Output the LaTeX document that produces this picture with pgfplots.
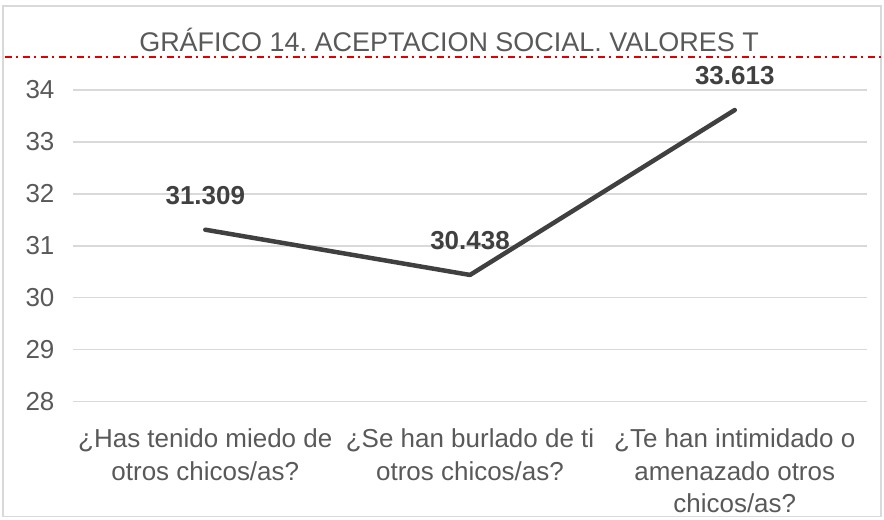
\documentclass[border=0pt]{standalone}
\usepackage{fontspec}
\setmainfont{Liberation Sans}
\usepackage{pgfplots}
\pgfplotsset{compat=1.18}
\definecolor{txtgray}{HTML}{595959}
\definecolor{linegray}{HTML}{404040}
\definecolor{gridgray}{HTML}{D9D9D9}
\definecolor{titlered}{HTML}{E00000}
\frenchspacing

\begin{document}
\begin{tikzpicture}[x=1pt,y=1pt]
\path (0,0) rectangle (884,520);
\draw[gridgray, line width=1.5pt] (3,3) rectangle (882,514);
\begin{axis}[
  at={(73pt,118pt)}, anchor=south west,
  scale only axis, width=795pt, height=312pt,
  xmin=-0.5, xmax=2.5, ymin=28, ymax=34,
  xtick={0,1,2},
  xticklabels={{¿Has tenido miedo de\\otros chicos/as?},{¿Se han burlado de ti\\otros chicos/as?},{¿Te han intimidado o\\amenazado otros\\chicos/as?}},
  ytick={28,29,...,34},
  ymajorgrids, grid style={gridgray, line width=1.5pt},
  axis line style={draw=none},
  major tick length=0pt,
  tick label style={font=\fontsize{26}{32.5}\selectfont, text=txtgray},
  xticklabel style={align=center, yshift=-24pt},
  yticklabel style={xshift=-15pt},
  /pgf/number format/assume math mode=true,
  clip=false,
]
\addplot[linegray, line width=4.5pt, line join=round, line cap=round,
  nodes near coords, point meta=explicit symbolic,
  every node near coord/.style={anchor=center, yshift=34pt, font=\fontsize{26}{32}\selectfont\bfseries, text=linegray}]
  coordinates {(0,31.309)[31.309] (1,30.438)[30.438] (2,33.613)[33.613]};
\end{axis}
\node[anchor=base, text=txtgray, font=\fontsize{27}{32}\selectfont, inner sep=0pt] at (449.5,468) {GRÁFICO 14. ACEPTACION SOCIAL. VALORES T};
\draw[titlered, line width=1.8pt, dash pattern=on 7pt off 4pt on 2pt off 5pt] (5,463) -- (884,463);
\end{tikzpicture}
\end{document}
